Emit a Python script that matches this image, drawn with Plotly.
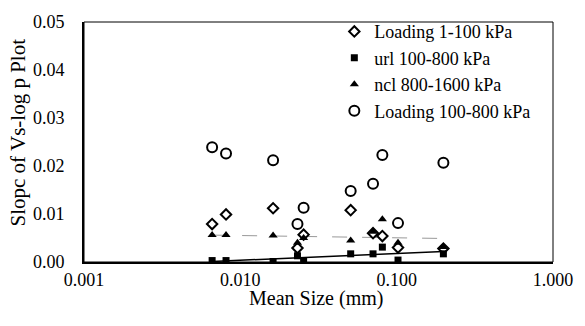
import plotly.graph_objects as go

# Mean size (mm) of each sample
mean_size = [0.0066, 0.0081, 0.0162, 0.0232, 0.0254, 0.0508, 0.0706, 0.081, 0.102, 0.199]

loading_1_100 = [0.0079, 0.0099, 0.0112, 0.0029, 0.0057, 0.0108, 0.0060, 0.0054, 0.0030, 0.0028]
url_100_800 = [0.0003, 0.0003, 0.0001, 0.0013, 0.0001, 0.0017, 0.0017, 0.0031, 0.0004, 0.0017]
ncl_800_1600 = [0.0056, 0.0056, 0.0055, 0.0040, 0.0050, 0.0045, 0.0063, 0.0089, 0.0040, 0.0031]
loading_100_800 = [0.0239, 0.0226, 0.0212, 0.0079, 0.0113, 0.0148, 0.0163, 0.0223, 0.0081, 0.0207]

# trend lines (end points)
trend_x = [0.0066, 0.199]
url_trend = [0.0001, 0.0022]
ncl_trend = [0.0056, 0.0049]

x_tickvals = [0.001, 0.01, 0.1, 1]
x_ticktext = ["0.001", "0.010", "0.100", "1.000"]

FONT = "Liberation Serif"

fig = go.Figure()

fig.add_trace(go.Scatter(x=trend_x, y=ncl_trend, mode="lines",
                         line=dict(color="#999999", width=1, dash="longdash"),
                         showlegend=False, hoverinfo="skip"))
fig.add_trace(go.Scatter(x=trend_x, y=url_trend, mode="lines",
                         line=dict(color="black", width=1.5),
                         showlegend=False, hoverinfo="skip"))

fig.add_trace(go.Scatter(x=mean_size, y=loading_1_100, mode="markers", name="Loading 1-100 kPa",
                         legendgroup="a",
                         marker=dict(symbol="diamond-open", size=8, color="black", line=dict(width=2))))
fig.add_trace(go.Scatter(x=mean_size, y=url_100_800, mode="markers", name="url 100-800 kPa",
                         legendgroup="b",
                         marker=dict(symbol="square", size=7, color="black")))
fig.add_trace(go.Scatter(x=mean_size, y=ncl_800_1600, mode="markers", name="ncl 800-1600 kPa",
                         legendgroup="c",
                         marker=dict(symbol="triangle-up", size=8, color="black")))
fig.add_trace(go.Scatter(x=mean_size, y=loading_100_800, mode="markers", name="Loading 100-800 kPa",
                         legendgroup="d",
                         marker=dict(symbol="circle-open", size=10, color="black", line=dict(width=2))))

L, R, T, B = 84, 27, 15, 64
pw = 585 - L - R
ph = 326 - T - B

fig.update_layout(
    width=585, height=326,
    margin=dict(l=L, r=R, t=T, b=B),
    paper_bgcolor="white", plot_bgcolor="white",
    font=dict(family=FONT, size=18, color="black"),
    showlegend=True,
    legend=dict(x=(337 - L) / pw, y=1.0 + 9 / ph, xanchor="left", yanchor="top",
                bgcolor="rgba(0,0,0,0)", borderwidth=0,
                font=dict(family=FONT, size=18, color="black"),
                tracegroupgap=0, itemwidth=30),
    xaxis=dict(type="log", range=[-3, 0], tickvals=x_tickvals, ticktext=x_ticktext,
               showgrid=False, zeroline=False, showline=True, linecolor="black", linewidth=2,
               ticks="", tickfont=dict(family=FONT, size=18)),
    yaxis=dict(range=[0, 0.05], dtick=0.01, tickformat=".2f",
               showgrid=False, zeroline=False, showline=True, linecolor="black", linewidth=2,
               ticks="", ticklabelstandoff=14, tickfont=dict(family=FONT, size=18)),
    shapes=[dict(type="rect", xref="paper", yref="paper", x0=0, x1=1, y0=0, y1=1,
                 line=dict(color="black", width=1), layer="below")],
    annotations=[
        dict(text="Mean Size (mm)", xref="paper", yref="paper",
             x=(318.5 - L) / pw, y=-(300 - (T + ph)) / ph, xanchor="center", yanchor="middle",
             showarrow=False, font=dict(family=FONT, size=20)),
        dict(text="Slopc of Vs-log p Plot", xref="paper", yref="paper",
             x=(17 - L) / pw, y=((T + ph) - 129) / ph, xanchor="center", yanchor="middle",
             textangle=-90, showarrow=False, font=dict(family=FONT, size=21)),
    ],
)

fig.write_html("out.html")
